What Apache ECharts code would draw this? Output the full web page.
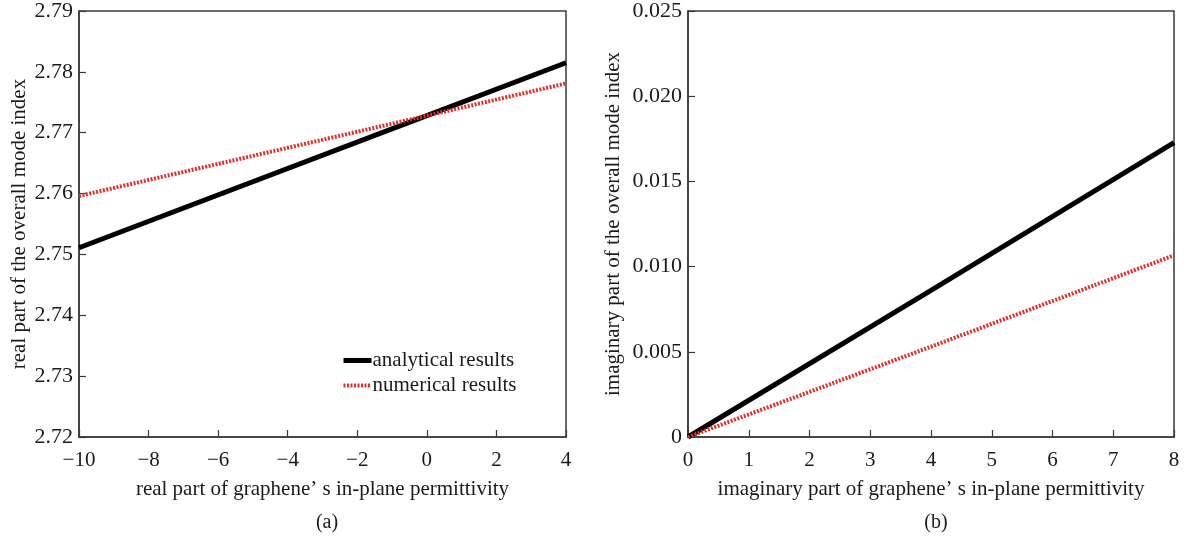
<!DOCTYPE html>
<html><head><meta charset="utf-8">
<script src="https://cdn.jsdelivr.net/npm/echarts@6/dist/echarts.min.js"></script>
<style>html,body{margin:0;padding:0;background:#fff}#c{width:1192px;height:538px}</style>
</head><body><div id="c"></div>
<script>
// Panel (a): real part
const realX = [-10, 0, 4];
const realAnalytical = [2.7511, 2.7728, 2.7815];
const realNumerical = [2.7596, 2.7728, 2.7781];
// Panel (b): imaginary part
const imagX = [0, 4, 8];
const imagAnalytical = [0, 0.0086, 0.01728];
const imagNumerical = [0, 0.0053, 0.01066];

const seriesNames = ['analytical results', 'numerical results'];
const panelLabels = ['(a)', '(b)'];
const xTitles = ['real part of graphene\u2019 s in-plane permittivity', 'imaginary part of graphene\u2019 s in-plane permittivity'];
const yTitles = ['real part of the overall mode index', 'imaginary part of the overall mode index'];

const FONT = 'Liberation Serif';
const TXT = '#1a1a1a';
const AX = '#3a3a3a';
const RED = '#e0302c';

function pairs(xs, ys) { return xs.map((x, i) => [x, ys[i]]); }
function minusFmt(v) { return String(v).replace('-', '\u2212'); }

function xAxis(idx, min, max, interval, title) {
  return {
    type: 'value', gridIndex: idx, min, max, interval,
    name: title, nameLocation: 'middle', nameGap: 42,
    nameTextStyle: { fontFamily: FONT, fontSize: 21, color: TXT },
    axisLine: { show: true, onZero: false, lineStyle: { color: AX, width: 1.5 } },
    axisTick: { show: true, inside: true, length: 7, lineStyle: { color: AX, width: 1.2 } },
    axisLabel: { fontFamily: FONT, fontSize: 21, color: TXT, margin: 13, formatter: minusFmt },
    splitLine: { show: false }
  };
}
function yAxis(idx, min, max, interval, title, fmt, gap) {
  return {
    type: 'value', gridIndex: idx, min, max, interval,
    name: title, nameLocation: 'middle', nameGap: gap,
    nameTextStyle: { fontFamily: FONT, fontSize: 21, color: TXT },
    axisLine: { show: true, onZero: false, lineStyle: { color: AX, width: 1.5 } },
    axisTick: { show: true, inside: true, length: 7, lineStyle: { color: AX, width: 1.2 } },
    axisLabel: { fontFamily: FONT, fontSize: 22, color: TXT, margin: 6, formatter: fmt },
    splitLine: { show: false }
  };
}

const chart = echarts.init(document.getElementById('c'), null, { renderer: 'canvas' });
chart.setOption({
  backgroundColor: '#fff',
  animation: false,
  grid: [
    { left: 79, top: 10, width: 487, height: 427, show: true, borderColor: AX, borderWidth: 1.5, backgroundColor: 'transparent' },
    { left: 688, top: 10, width: 486, height: 427, show: true, borderColor: AX, borderWidth: 1.5, backgroundColor: 'transparent' }
  ],
  title: [
    { text: panelLabels[0], left: 322, top: 508, textAlign: 'center', textStyle: { fontFamily: FONT, fontSize: 20, fontWeight: 'normal', color: TXT } },
    { text: panelLabels[1], left: 931, top: 508, textAlign: 'center', textStyle: { fontFamily: FONT, fontSize: 20, fontWeight: 'normal', color: TXT } }
  ],
  legend: {
    data: [
      { name: seriesNames[0], lineStyle: { width: 5, color: '#000' } },
      { name: seriesNames[1], lineStyle: { width: 4, color: RED, type: [2, 1.5] } }
    ],
    orient: 'vertical', left: 336, top: 345,
    itemWidth: 28, itemHeight: 8, itemGap: 4,
    itemStyle: { opacity: 0 },
    textStyle: { fontFamily: FONT, fontSize: 21, color: TXT, padding: [0, 0, 0, -4] }
  },
  xAxis: [
    xAxis(0, -10, 4, 2, xTitles[0]),
    xAxis(1, 0, 8, 1, xTitles[1])
  ],
  yAxis: [
    yAxis(0, 2.72, 2.79, 0.01, yTitles[0], v => v.toFixed(2), 49.5),
    yAxis(1, 0, 0.025, 0.005, yTitles[1], v => v === 0 ? '0' : v.toFixed(3), 64.5)
  ],
  series: [
    { name: seriesNames[0], type: 'line', xAxisIndex: 0, yAxisIndex: 0, data: pairs(realX, realAnalytical), symbol: 'none', lineStyle: { color: '#000', width: 5 }, itemStyle: { color: '#000' } },
    { name: seriesNames[1], type: 'line', xAxisIndex: 0, yAxisIndex: 0, data: pairs(realX, realNumerical), symbol: 'none', lineStyle: { color: RED, width: 4, type: [2, 1.5] }, itemStyle: { color: RED } },
    { name: seriesNames[0], type: 'line', xAxisIndex: 1, yAxisIndex: 1, data: pairs(imagX, imagAnalytical), symbol: 'none', lineStyle: { color: '#000', width: 5 }, itemStyle: { color: '#000' } },
    { name: seriesNames[1], type: 'line', xAxisIndex: 1, yAxisIndex: 1, data: pairs(imagX, imagNumerical), symbol: 'none', lineStyle: { color: RED, width: 4, type: [2, 1.5] }, itemStyle: { color: RED } }
  ]
});
</script>
</body></html>
